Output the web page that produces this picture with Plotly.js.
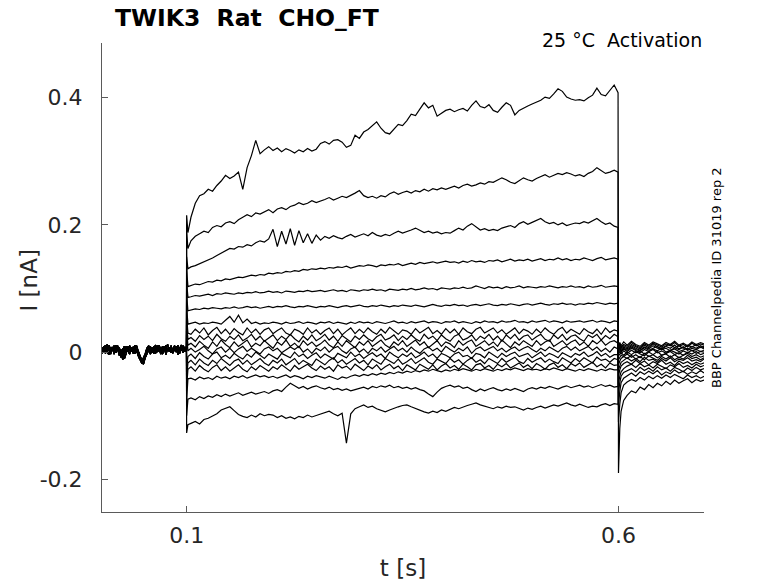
<!DOCTYPE html>
<html>
<head>
<meta charset="utf-8">
<script src="https://cdn.plot.ly/plotly-3.0.0.min.js"></script>
<style>html,body{margin:0;padding:0;background:#fff;}#chart{width:778px;height:583px;}</style>
</head>
<body>
<div id="chart"></div>
<script>
// ---- time axes (s) ----
const baseT = [0.002,0.004,0.006,0.008,0.010,0.012,0.014,0.016,0.018,0.020,
0.022,0.024,0.026,0.028,0.030,0.032,0.034,0.036,0.038,0.040,
0.042,0.044,0.046,0.048,0.050,0.052,0.054,0.056,0.058,0.060,
0.062,0.064,0.066,0.068,0.070,0.072,0.074,0.076,0.078,0.080,
0.082,0.084,0.086,0.088,0.090,0.092,0.094,0.096,0.098,
0.0998];
const stepT = [0.1,0.1015,
0.105,0.110,0.115,0.120,0.125,0.130,0.135,0.140,0.145,0.150,
0.155,0.160,0.165,0.170,0.175,0.180,0.185,0.190,0.195,0.200,
0.205,0.210,0.215,0.220,0.225,0.230,0.235,0.240,0.245,0.250,
0.255,0.260,0.265,0.270,0.275,0.280,0.285,0.290,0.295,0.300,
0.305,0.310,0.315,0.320,0.325,0.330,0.335,0.340,0.345,0.350,
0.355,0.360,0.365,0.370,0.375,0.380,0.385,0.390,0.395,0.400,
0.405,0.410,0.415,0.420,0.425,0.430,0.435,0.440,0.445,0.450,
0.455,0.460,0.465,0.470,0.475,0.480,0.485,0.490,0.495,0.500,
0.505,0.510,0.515,0.520,0.525,0.530,0.535,0.540,0.545,0.550,
0.555,0.560,0.565,0.570,0.575,0.580,0.585,0.590,0.595,
0.5995];
const tailT = [0.6,0.6015,0.603,0.606,0.61,0.615,0.62,0.625,0.63,0.635,0.64,0.645,0.65,0.655,0.66,0.665,0.67,0.675,0.68,0.685,0.69,0.695,0.699];

// ---- holding baselines (nA) ----
const base1 = [0.003,0.009,-0.002,0.006,0.011,0.001,0.007,-0.003,0.005,0.010,
0.000,-0.008,0.004,0.009,-0.001,0.006,0.010,0.001,0.008,-0.002,
0.004,-0.006,-0.012,-0.015,-0.010,-0.003,0.006,0.010,0.000,0.007,
-0.002,0.005,0.010,0.001,0.008,-0.003,0.006,0.011,0.002,0.007,
-0.001,0.005,0.010,0.000,0.008,-0.002,0.006,0.010,0.001,
0.005];
const base2 = [-0.002,0.006,0.011,0.000,-0.004,0.008,0.003,0.010,-0.001,0.006,
-0.005,0.004,-0.012,0.000,0.009,0.002,-0.003,0.007,0.003,0.011,
-0.001,0.002,-0.010,-0.018,-0.014,-0.006,0.002,0.008,-0.003,0.004,
0.009,-0.002,0.005,0.011,0.000,0.004,0.009,-0.004,0.006,0.001,
0.010,-0.001,0.004,0.009,-0.004,0.006,0.011,0.001,0.007,
0.002];
const base3 = [0.007,-0.001,0.004,0.012,0.003,-0.003,0.008,0.001,0.011,0.002,
0.007,-0.002,0.005,-0.010,-0.002,0.009,0.002,0.007,-0.002,0.005,
0.010,0.001,-0.006,-0.014,-0.019,-0.009,-0.003,0.004,0.009,-0.001,
0.005,0.011,0.000,0.007,-0.003,0.009,0.002,0.006,0.012,0.001,
0.005,-0.002,0.008,0.002,0.011,0.000,0.006,-0.001,0.008,
0.003];

// ---- test-pulse currents (nA) ----
const step01 = [0.215,0.188,
0.212,0.234,0.246,0.249,0.256,0.253,0.262,0.269,0.278,0.273,
0.277,0.283,0.256,0.290,0.309,0.333,0.312,0.318,0.323,0.317,
0.321,0.315,0.320,0.317,0.313,0.318,0.315,0.320,0.316,0.319,
0.328,0.331,0.327,0.333,0.334,0.330,0.322,0.325,0.341,0.336,
0.346,0.350,0.356,0.362,0.352,0.345,0.343,0.350,0.358,0.356,
0.364,0.374,0.372,0.382,0.392,0.384,0.388,0.371,0.376,0.380,
0.382,0.378,0.381,0.383,0.379,0.388,0.395,0.386,0.384,0.389,
0.380,0.377,0.385,0.392,0.388,0.373,0.380,0.384,0.387,0.390,
0.393,0.396,0.401,0.399,0.406,0.414,0.410,0.401,0.398,0.396,
0.397,0.395,0.400,0.404,0.415,0.405,0.403,0.412,0.420,
0.408];
const step02 = [0.19,0.163,
0.175,0.182,0.186,0.190,0.188,0.196,0.199,0.197,0.203,0.205,
0.202,0.208,0.212,0.216,0.213,0.219,0.217,0.221,0.224,0.219,
0.225,0.227,0.224,0.229,0.231,0.235,0.232,0.234,0.238,0.235,
0.237,0.240,0.243,0.239,0.242,0.245,0.243,0.246,0.250,0.254,
0.246,0.243,0.245,0.242,0.246,0.244,0.249,0.252,0.248,0.251,
0.253,0.250,0.254,0.252,0.256,0.253,0.257,0.255,0.258,0.256,
0.259,0.261,0.258,0.262,0.264,0.261,0.263,0.266,0.264,0.268,
0.267,0.270,0.274,0.271,0.267,0.265,0.270,0.274,0.271,0.269,
0.273,0.276,0.279,0.275,0.278,0.281,0.279,0.282,0.280,0.277,
0.279,0.276,0.281,0.284,0.290,0.286,0.281,0.283,0.286,
0.283];
const step03 = [0.15,0.131,
0.134,0.136,0.139,0.141,0.145,0.148,0.152,0.156,0.160,0.163,
0.162,0.166,0.165,0.169,0.167,0.172,0.175,0.173,0.178,0.193,
0.166,0.190,0.170,0.194,0.168,0.191,0.172,0.186,0.171,0.184,
0.176,0.182,0.179,0.183,0.180,0.178,0.182,0.185,0.181,0.184,
0.186,0.183,0.188,0.184,0.182,0.185,0.183,0.187,0.190,0.187,
0.189,0.192,0.195,0.191,0.188,0.190,0.187,0.189,0.186,0.188,
0.187,0.191,0.195,0.192,0.198,0.202,0.197,0.192,0.194,0.191,
0.193,0.191,0.195,0.197,0.199,0.196,0.202,0.205,0.201,0.204,
0.207,0.210,0.205,0.202,0.204,0.200,0.203,0.199,0.201,0.203,
0.202,0.205,0.203,0.207,0.210,0.205,0.201,0.203,0.198,
0.196];
const step04 = [0.13,0.103,
0.105,0.107,0.106,0.109,0.111,0.110,0.113,0.112,0.115,0.114,
0.116,0.118,0.117,0.119,0.121,0.120,0.122,0.121,0.124,0.123,
0.125,0.124,0.127,0.126,0.128,0.127,0.130,0.129,0.131,0.130,
0.132,0.131,0.133,0.132,0.134,0.133,0.135,0.132,0.134,0.136,
0.135,0.137,0.136,0.134,0.137,0.136,0.138,0.137,0.139,0.136,
0.138,0.140,0.138,0.141,0.139,0.140,0.142,0.140,0.141,0.143,
0.141,0.142,0.140,0.143,0.141,0.144,0.142,0.143,0.141,0.144,
0.143,0.145,0.142,0.144,0.146,0.143,0.145,0.144,0.146,0.143,
0.145,0.147,0.144,0.146,0.145,0.148,0.145,0.147,0.144,0.146,
0.145,0.148,0.146,0.144,0.147,0.149,0.145,0.147,0.148,
0.146];
const step05 = [0.11,0.086,
0.087,0.089,0.088,0.090,0.091,0.089,0.092,0.091,0.093,0.092,
0.091,0.093,0.092,0.094,0.093,0.095,0.093,0.094,0.096,0.094,
0.095,0.093,0.096,0.095,0.094,0.096,0.095,0.097,0.095,0.096,
0.097,0.095,0.096,0.098,0.096,0.097,0.095,0.098,0.097,0.096,
0.098,0.097,0.099,0.097,0.098,0.096,0.099,0.098,0.097,0.099,
0.098,0.100,0.098,0.099,0.101,0.099,0.100,0.098,0.101,0.100,
0.099,0.101,0.100,0.102,0.100,0.101,0.104,0.102,0.100,0.103,
0.101,0.102,0.100,0.103,0.101,0.102,0.104,0.101,0.103,0.102,
0.101,0.103,0.102,0.104,0.102,0.101,0.103,0.102,0.104,0.102,
0.103,0.101,0.104,0.102,0.103,0.105,0.102,0.103,0.104,
0.103];
const step06 = [0.09,0.065,
0.066,0.068,0.067,0.069,0.068,0.070,0.069,0.068,0.070,0.069,
0.071,0.069,0.070,0.072,0.070,0.071,0.069,0.071,0.072,0.070,
0.072,0.071,0.073,0.071,0.070,0.072,0.071,0.073,0.072,0.070,
0.072,0.071,0.073,0.072,0.070,0.072,0.073,0.071,0.072,0.074,
0.072,0.071,0.073,0.072,0.074,0.072,0.071,0.073,0.072,0.074,
0.073,0.072,0.074,0.073,0.071,0.073,0.075,0.073,0.072,0.074,
0.073,0.075,0.073,0.074,0.072,0.074,0.075,0.073,0.074,0.076,
0.074,0.073,0.075,0.074,0.076,0.074,0.073,0.075,0.076,0.074,
0.075,0.077,0.075,0.074,0.076,0.075,0.077,0.075,0.076,0.074,
0.076,0.075,0.077,0.076,0.078,0.076,0.075,0.077,0.076,
0.077];
const step07 = [0.07,0.044,
0.045,0.047,0.044,0.046,0.045,0.047,0.046,0.044,0.050,0.056,
0.047,0.058,0.046,0.052,0.045,0.047,0.044,0.046,0.045,0.047,
0.046,0.044,0.047,0.045,0.046,0.048,0.045,0.047,0.046,0.044,
0.047,0.046,0.048,0.045,0.047,0.046,0.044,0.047,0.045,0.048,
0.046,0.047,0.045,0.048,0.046,0.045,0.047,0.049,0.046,0.047,
0.045,0.048,0.046,0.047,0.049,0.046,0.048,0.047,0.045,0.048,
0.047,0.049,0.046,0.048,0.047,0.045,0.048,0.046,0.049,0.047,
0.048,0.046,0.049,0.047,0.048,0.050,0.047,0.048,0.046,0.049,
0.047,0.048,0.050,0.047,0.049,0.048,0.046,0.049,0.047,0.048,
0.049,0.047,0.048,0.050,0.047,0.049,0.048,0.046,0.049,
0.048];
const step08 = [0.055,0.030,
0.028,0.036,0.030,0.038,0.027,0.034,0.039,0.029,0.036,0.028,
0.037,0.031,0.027,0.038,0.030,0.036,0.028,0.035,0.038,0.029,
0.034,0.038,0.030,0.027,0.036,0.033,0.028,0.038,0.030,0.035,
0.028,0.034,0.038,0.029,0.036,0.027,0.033,0.038,0.029,0.036,
0.030,0.038,0.032,0.028,0.036,0.030,0.039,0.033,0.028,0.035,
0.033,0.028,0.037,0.030,0.035,0.039,0.029,0.034,0.028,0.037,
0.030,0.036,0.028,0.038,0.032,0.029,0.036,0.039,0.030,0.034,
0.038,0.030,0.035,0.028,0.033,0.038,0.029,0.036,0.033,0.028,
0.036,0.030,0.038,0.032,0.028,0.035,0.039,0.030,0.036,0.032,
0.028,0.037,0.032,0.029,0.036,0.028,0.038,0.031,0.035,
0.033];
const step09 = [0.045,0.020,
0.023,0.017,0.026,0.020,0.025,0.018,0.028,0.021,0.017,0.025,
0.020,0.027,0.018,0.022,0.028,0.019,0.025,0.017,0.022,0.027,
0.018,0.025,0.020,0.028,0.021,0.016,0.025,0.019,0.027,0.018,
0.022,0.028,0.019,0.025,0.017,0.026,0.021,0.016,0.025,0.020,
0.027,0.021,0.017,0.024,0.028,0.019,0.022,0.027,0.018,0.025,
0.020,0.027,0.021,0.017,0.028,0.021,0.025,0.018,0.027,0.021,
0.017,0.025,0.028,0.019,0.022,0.027,0.018,0.025,0.021,0.028,
0.019,0.025,0.017,0.027,0.021,0.028,0.019,0.025,0.027,0.019,
0.024,0.028,0.020,0.017,0.027,0.021,0.028,0.019,0.025,0.027,
0.021,0.017,0.027,0.023,0.028,0.019,0.026,0.021,0.028,
0.024];
const step10 = [0.035,0.011,
0.014,0.008,0.017,0.011,0.006,0.016,0.009,0.019,0.012,0.007,
0.016,0.009,0.014,0.019,0.008,0.014,0.010,0.018,0.012,0.006,
0.016,0.011,0.019,0.009,0.014,0.007,0.018,0.011,0.016,0.009,
0.013,0.019,0.011,0.007,0.016,0.009,0.018,0.013,0.007,0.016,
0.011,0.018,0.009,0.014,0.019,0.011,0.007,0.016,0.011,0.018,
0.009,0.014,0.019,0.011,0.016,0.007,0.013,0.018,0.009,0.016,
0.013,0.007,0.018,0.011,0.016,0.019,0.009,0.014,0.018,0.011,
0.016,0.009,0.019,0.013,0.007,0.016,0.011,0.018,0.013,0.009,
0.018,0.011,0.016,0.019,0.009,0.014,0.018,0.011,0.016,0.019,
0.011,0.016,0.009,0.018,0.013,0.019,0.011,0.016,0.018,
0.014];
const step11 = [0.025,0.002,
0.006,0.000,0.004,0.009,0.002,-0.003,0.005,0.008,0.000,0.006,
-0.001,0.005,0.009,0.001,0.006,0.002,-0.003,0.005,0.008,0.002,
0.006,-0.001,0.003,0.008,0.004,0.009,0.000,0.005,-0.002,0.006,
0.002,0.008,0.000,0.006,0.009,0.002,-0.002,0.005,0.008,0.000,
0.005,-0.002,0.006,0.002,0.008,0.000,0.005,0.009,0.002,0.006,
0.000,0.008,0.002,-0.002,0.005,0.008,0.002,0.006,0.000,0.009,
0.004,0.000,0.006,0.002,0.008,-0.002,0.005,0.008,0.002,0.006,
0.009,0.002,0.006,0.000,0.005,0.008,0.002,0.006,0.009,0.004,
0.000,0.006,0.002,0.008,0.004,0.000,0.006,0.009,0.003,0.008,
0.002,0.006,0.009,0.003,0.008,0.001,0.006,0.000,0.008,
0.005];
const step12 = [-0.025,-0.007,
-0.003,-0.010,-0.001,-0.007,-0.011,-0.003,0.000,-0.009,-0.005,-0.010,
-0.002,-0.007,-0.011,-0.003,-0.008,0.000,-0.005,-0.010,-0.003,-0.007,
-0.011,-0.002,-0.005,-0.009,0.000,-0.007,-0.003,-0.010,-0.005,-0.001,
-0.009,-0.003,-0.007,-0.011,-0.002,-0.005,-0.009,0.000,-0.007,-0.003,
-0.010,-0.005,-0.001,-0.007,-0.003,-0.010,0.000,-0.005,-0.009,-0.003,
-0.007,-0.001,-0.009,-0.005,0.000,-0.007,-0.003,-0.010,-0.002,-0.005,
-0.009,-0.003,0.000,-0.007,-0.005,-0.010,-0.002,-0.004,-0.009,0.000,
-0.005,-0.009,-0.002,-0.007,-0.003,0.000,-0.007,-0.005,-0.002,-0.009,
-0.004,0.000,-0.007,-0.002,-0.005,-0.009,-0.001,-0.004,-0.008,-0.002,
-0.005,0.000,-0.007,-0.004,0.001,-0.006,-0.002,-0.008,-0.004,
-0.004];
const step13 = [-0.04,-0.017,
-0.013,-0.020,-0.011,-0.017,-0.021,-0.013,-0.018,-0.010,-0.016,-0.021,
-0.014,-0.011,-0.019,-0.013,-0.020,-0.015,-0.010,-0.017,-0.021,-0.013,
-0.017,-0.011,-0.020,-0.015,-0.010,-0.019,-0.013,-0.017,-0.021,-0.011,
-0.015,-0.020,-0.013,-0.009,-0.017,-0.012,-0.019,-0.015,-0.010,-0.017,
-0.013,-0.020,-0.011,-0.015,-0.019,-0.010,-0.014,-0.018,-0.011,-0.019,
-0.015,-0.010,-0.018,-0.013,-0.009,-0.016,-0.019,-0.011,-0.014,-0.018,
-0.010,-0.016,-0.012,-0.019,-0.013,-0.009,-0.016,-0.012,-0.018,-0.010,
-0.014,-0.018,-0.010,-0.016,-0.012,-0.008,-0.015,-0.018,-0.010,-0.016,
-0.012,-0.009,-0.016,-0.011,-0.015,-0.018,-0.009,-0.013,-0.017,-0.010,
-0.015,-0.009,-0.013,-0.017,-0.008,-0.013,-0.011,-0.016,-0.010,
-0.012];
const step14 = [-0.055,-0.027,
-0.023,-0.030,-0.021,-0.027,-0.031,-0.024,-0.020,-0.029,-0.023,-0.030,
-0.025,-0.020,-0.027,-0.031,-0.023,-0.028,-0.021,-0.025,-0.030,-0.023,
-0.027,-0.020,-0.025,-0.030,-0.021,-0.027,-0.023,-0.019,-0.025,-0.029,
-0.022,-0.027,-0.023,-0.030,-0.020,-0.025,-0.022,-0.028,-0.019,-0.024,
-0.029,-0.022,-0.026,-0.020,-0.028,-0.023,-0.019,-0.026,-0.022,-0.029,
-0.020,-0.024,-0.028,-0.019,-0.023,-0.027,-0.020,-0.028,-0.022,-0.018,
-0.025,-0.021,-0.027,-0.019,-0.023,-0.028,-0.020,-0.018,-0.025,-0.021,
-0.027,-0.019,-0.023,-0.018,-0.025,-0.021,-0.017,-0.024,-0.020,-0.026,
-0.018,-0.022,-0.027,-0.020,-0.017,-0.024,-0.020,-0.026,-0.018,-0.022,
-0.017,-0.024,-0.020,-0.016,-0.023,-0.019,-0.025,-0.017,-0.021,
-0.020];
const step15 = [-0.075,-0.042,
-0.041,-0.044,-0.039,-0.042,-0.040,-0.043,-0.038,-0.041,-0.039,-0.042,
-0.038,-0.040,-0.037,-0.041,-0.038,-0.036,-0.039,-0.037,-0.040,-0.038,
-0.041,-0.038,-0.036,-0.040,-0.037,-0.039,-0.042,-0.038,-0.040,-0.037,
-0.039,-0.041,-0.038,-0.040,-0.043,-0.039,-0.041,-0.038,-0.036,-0.038,
-0.035,-0.037,-0.034,-0.036,-0.033,-0.035,-0.032,-0.034,-0.031,-0.033,
-0.030,-0.032,-0.029,-0.031,-0.028,-0.030,-0.027,-0.029,-0.031,-0.028,
-0.030,-0.027,-0.029,-0.026,-0.028,-0.030,-0.027,-0.029,-0.026,-0.028,
-0.030,-0.027,-0.029,-0.026,-0.028,-0.025,-0.027,-0.029,-0.026,-0.028,
-0.027,-0.029,-0.026,-0.028,-0.025,-0.027,-0.029,-0.026,-0.028,-0.030,
-0.027,-0.029,-0.026,-0.028,-0.030,-0.027,-0.029,-0.026,-0.028,
-0.028];
const step16 = [-0.10,-0.074,
-0.072,-0.075,-0.070,-0.073,-0.069,-0.071,-0.067,-0.070,-0.066,-0.069,
-0.067,-0.064,-0.068,-0.065,-0.063,-0.066,-0.064,-0.062,-0.065,-0.061,
-0.059,-0.062,-0.055,-0.049,-0.053,-0.057,-0.054,-0.058,-0.055,-0.053,
-0.056,-0.058,-0.055,-0.059,-0.057,-0.060,-0.058,-0.061,-0.059,-0.057,
-0.055,-0.058,-0.054,-0.056,-0.053,-0.055,-0.052,-0.056,-0.054,-0.057,
-0.055,-0.058,-0.056,-0.059,-0.061,-0.066,-0.070,-0.063,-0.057,-0.054,
-0.052,-0.055,-0.053,-0.057,-0.055,-0.059,-0.062,-0.058,-0.061,-0.058,
-0.056,-0.059,-0.061,-0.058,-0.060,-0.057,-0.059,-0.062,-0.058,-0.056,
-0.058,-0.055,-0.057,-0.054,-0.056,-0.058,-0.055,-0.053,-0.056,-0.054,
-0.052,-0.055,-0.053,-0.056,-0.054,-0.051,-0.054,-0.052,-0.055,
-0.054];
const step17 = [-0.127,-0.114,
-0.112,-0.109,-0.113,-0.106,-0.104,-0.101,-0.097,-0.091,-0.089,-0.086,
-0.092,-0.098,-0.101,-0.103,-0.099,-0.102,-0.097,-0.100,-0.098,-0.099,
-0.103,-0.100,-0.104,-0.102,-0.105,-0.101,-0.103,-0.099,-0.102,-0.100,
-0.097,-0.095,-0.093,-0.097,-0.100,-0.096,-0.143,-0.097,-0.089,-0.086,
-0.083,-0.087,-0.085,-0.089,-0.092,-0.094,-0.091,-0.088,-0.086,-0.084,
-0.083,-0.086,-0.089,-0.091,-0.094,-0.096,-0.093,-0.095,-0.091,-0.093,
-0.090,-0.087,-0.089,-0.086,-0.084,-0.082,-0.080,-0.083,-0.085,-0.087,
-0.089,-0.086,-0.088,-0.085,-0.087,-0.086,-0.089,-0.091,-0.088,-0.090,
-0.087,-0.085,-0.088,-0.086,-0.083,-0.085,-0.082,-0.080,-0.083,-0.085,
-0.082,-0.084,-0.087,-0.085,-0.086,-0.083,-0.081,-0.084,-0.081,
-0.082];

// ---- tail currents after the pulse (nA) ----
const tail01 = [-0.190,-0.120,-0.093,-0.076,-0.068,-0.061,-0.064,-0.055,-0.059,-0.051,-0.056,-0.049,-0.053,-0.046,-0.051,-0.044,-0.049,-0.045,-0.042,-0.048,-0.043,-0.046,-0.044];
const tail02 = [-0.110,-0.082,-0.064,-0.052,-0.047,-0.043,-0.046,-0.040,-0.044,-0.038,-0.042,-0.037,-0.041,-0.036,-0.040,-0.035,-0.039,-0.042,-0.036,-0.040,-0.037,-0.041,-0.038];
const tail03 = [-0.085,-0.062,-0.048,-0.041,-0.037,-0.033,-0.038,-0.031,-0.035,-0.030,-0.034,-0.029,-0.036,-0.031,-0.034,-0.028,-0.033,-0.030,-0.035,-0.031,-0.034,-0.029,-0.033];
const tail04 = [-0.065,-0.048,-0.038,-0.032,-0.029,-0.026,-0.031,-0.024,-0.029,-0.025,-0.030,-0.023,-0.028,-0.025,-0.030,-0.024,-0.027,-0.031,-0.025,-0.029,-0.024,-0.028,-0.026];
const tail05 = [-0.050,-0.038,-0.031,-0.026,-0.022,-0.019,-0.024,-0.018,-0.023,-0.020,-0.025,-0.019,-0.022,-0.026,-0.020,-0.023,-0.018,-0.024,-0.021,-0.025,-0.019,-0.023,-0.021];
const tail06 = [-0.038,-0.028,-0.022,-0.018,-0.015,-0.019,-0.013,-0.018,-0.014,-0.020,-0.015,-0.018,-0.013,-0.019,-0.016,-0.021,-0.014,-0.018,-0.015,-0.020,-0.016,-0.019,-0.017];
const tail07 = [-0.028,-0.020,-0.016,-0.013,-0.009,-0.014,-0.010,-0.015,-0.008,-0.013,-0.011,-0.016,-0.010,-0.014,-0.009,-0.015,-0.011,-0.013,-0.009,-0.014,-0.012,-0.015,-0.011];
const tail08 = [-0.020,-0.014,-0.010,-0.007,-0.010,-0.005,-0.011,-0.007,-0.012,-0.006,-0.010,-0.013,-0.007,-0.011,-0.006,-0.012,-0.008,-0.011,-0.005,-0.010,-0.008,-0.012,-0.009];
const tail09 = [-0.012,-0.008,-0.005,-0.007,-0.003,-0.008,-0.004,-0.009,-0.002,-0.007,-0.004,-0.009,-0.005,-0.003,-0.008,-0.004,-0.009,-0.005,-0.002,-0.007,-0.004,-0.008,-0.006];
const tail10 = [-0.006,-0.003,-0.001,-0.005,0.000,-0.004,0.001,-0.003,-0.006,0.000,-0.004,0.001,-0.005,-0.002,0.001,-0.004,-0.001,-0.005,0.000,-0.003,0.001,-0.004,-0.002];
const tail11 = [-0.002,0.001,-0.003,0.002,-0.002,0.003,-0.001,0.002,-0.003,0.001,0.004,-0.001,0.002,-0.002,0.003,0.000,-0.003,0.002,-0.001,0.003,-0.002,0.001,0.000];
const tail12 = [0.002,0.004,0.000,0.005,0.001,0.006,0.002,-0.001,0.004,0.001,0.005,0.002,0.006,0.000,0.003,0.005,0.001,0.004,0.006,0.002,0.004,0.001,0.003];
const tail13 = [0.004,0.007,0.002,0.006,0.003,0.008,0.004,0.002,0.007,0.003,0.006,0.009,0.004,0.006,0.002,0.007,0.004,0.008,0.003,0.006,0.004,0.008,0.005];
const tail14 = [0.006,0.009,0.004,0.008,0.005,0.010,0.006,0.003,0.008,0.005,0.010,0.006,0.004,0.009,0.006,0.011,0.005,0.008,0.004,0.009,0.006,0.010,0.007];
const tail15 = [0.008,0.011,0.006,0.010,0.007,0.012,0.008,0.005,0.011,0.007,0.013,0.008,0.006,0.010,0.012,0.007,0.010,0.006,0.011,0.008,0.012,0.007,0.009];
const tail16 = [0.010,0.013,0.008,0.012,0.009,0.015,0.010,0.007,0.013,0.009,0.014,0.011,0.008,0.013,0.010,0.015,0.009,0.012,0.008,0.014,0.010,0.013,0.011];
const tail17 = [0.012,0.015,0.010,0.016,0.011,0.017,0.012,0.009,0.015,0.011,0.016,0.013,0.010,0.015,0.012,0.017,0.011,0.014,0.010,0.016,0.012,0.015,0.013];

// ---- tick labels ----
const xTickVals = [0.1, 0.6];
const xTickText = ['0.1', '0.6'];
const yTickVals = [-0.2, 0, 0.2, 0.4];
const yTickText = ['-0.2', '0', '0.2', '0.4'];

const steps = [step01,step02,step03,step04,step05,step06,step07,step08,step09,step10,step11,step12,step13,step14,step15,step16,step17];
const tails = [tail01,tail02,tail03,tail04,tail05,tail06,tail07,tail08,tail09,tail10,tail11,tail12,tail13,tail14,tail15,tail16,tail17];
const bases = [base1, base2, base3];

const FONT = 'DejaVu Sans, Liberation Sans, sans-serif';
const TXT = '#262626';
const AX = '#5a5a5a';

const data = steps.map((s, k) => ({
  type: 'scatter', mode: 'lines',
  x: baseT.concat(stepT, tailT),
  y: bases[k % 3].concat(s, tails[k]),
  line: {color: '#000000', width: 1.2},
  hoverinfo: 'skip', showlegend: false
}));

const layout = {
  width: 778, height: 583,
  margin: {l: 102, r: 74, t: 43, b: 71, pad: 0},
  paper_bgcolor: '#ffffff', plot_bgcolor: '#ffffff',
  font: {family: FONT, color: TXT},
  showlegend: false,
  title: {
    text: 'TWIK3\u00a0\u00a0Rat\u00a0\u00a0CHO_FT',
    font: {family: FONT, size: 23.5, color: '#000000', weight: 'bold'},
    xref: 'container', yref: 'container',
    x: 115/778, xanchor: 'left', y: 1 - 18/583, yanchor: 'middle'
  },
  xaxis: {
    range: [0.002, 0.699], autorange: false,
    tickmode: 'array', tickvals: xTickVals, ticktext: xTickText,
    ticks: 'inside', ticklen: 6, tickwidth: 1, tickcolor: AX,
    showline: true, linecolor: AX, linewidth: 1, mirror: false,
    showgrid: false, zeroline: false,
    tickfont: {family: FONT, size: 22, color: TXT},
    ticklabelstandoff: 4,
    title: {text: 't [s]', font: {family: FONT, size: 23, color: TXT}, standoff: 12},
    automargin: false
  },
  yaxis: {
    range: [-0.2514, 0.486], autorange: false,
    tickmode: 'array', tickvals: yTickVals, ticktext: yTickText,
    ticks: 'inside', ticklen: 6, tickwidth: 1, tickcolor: AX,
    showline: true, linecolor: AX, linewidth: 1, mirror: false,
    showgrid: false, zeroline: false,
    tickfont: {family: FONT, size: 22, color: TXT},
    ticklabelstandoff: 14,
    automargin: false
  },
  annotations: [
    {text: 'I [nA]', xref: 'paper', yref: 'paper',
     x: (28.5-102)/602, y: (512-281)/469, xanchor: 'center', yanchor: 'middle',
     textangle: -90, showarrow: false, font: {family: FONT, size: 23, color: TXT}},
    {text: '25 \u00b0C\u00a0\u00a0Activation', xref: 'paper', yref: 'paper',
     x: (704-102)/602, y: (512-40)/469, xanchor: 'right', yanchor: 'middle',
     showarrow: false, font: {family: FONT, size: 19, color: '#000000'}},
    {text: 'BBP Channelpedia ID 31019 rep 2', xref: 'paper', yref: 'paper',
     x: (716-102)/602, y: (512-278)/469, xanchor: 'center', yanchor: 'middle',
     textangle: -90, showarrow: false, font: {family: FONT, size: 13, color: '#000000'}}
  ]
};

Plotly.newPlot('chart', data, layout, {displayModeBar: false, staticPlot: true});
</script>
</body>
</html>
